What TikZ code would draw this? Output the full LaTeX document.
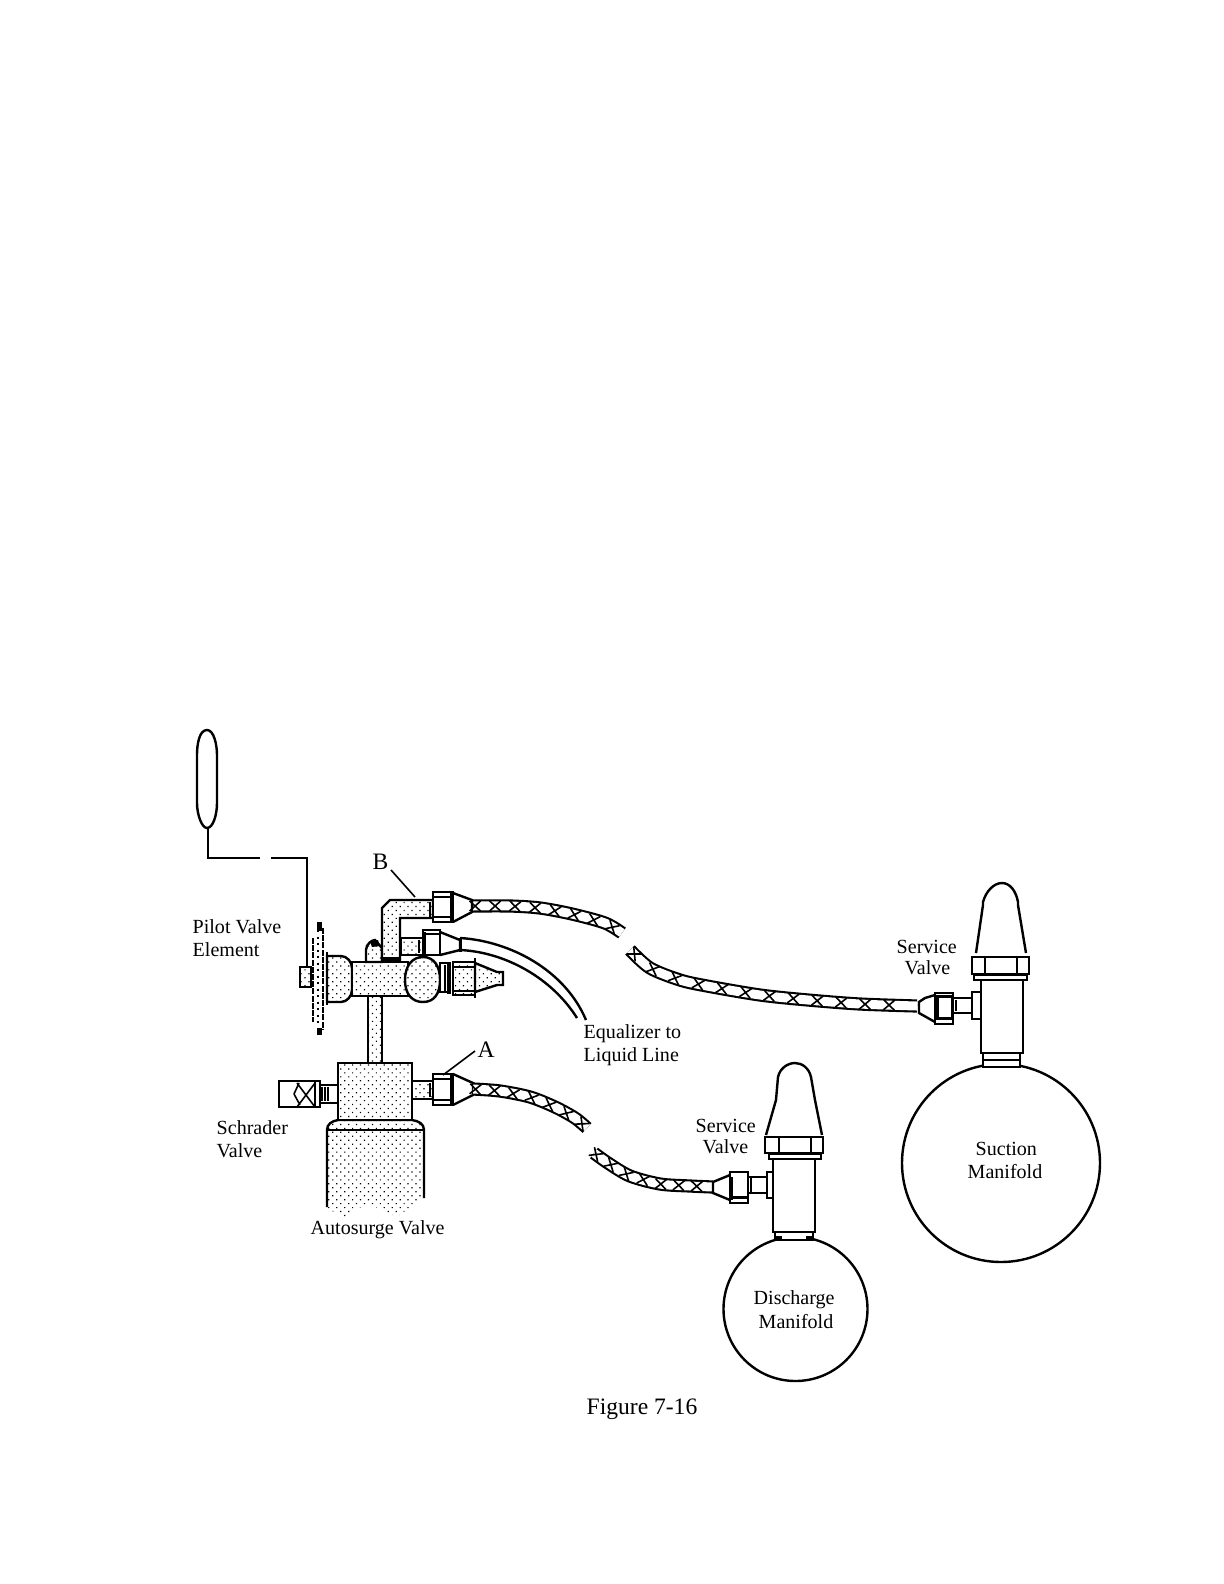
\documentclass[tikz,border=0pt]{standalone}
\usepackage{fontspec}
\setmainfont{Liberation Serif}
\usetikzlibrary{patterns.meta,decorations.markings}
\tikzset{
  ln/.style={line width=0.024cm,line join=miter},
  thin ln/.style={line width=0.016cm},
  thick ln/.style={line width=0.04cm},
  dotfill/.style={preaction={fill=white},pattern={Dots[radius=0.0085cm,distance=0.056cm,angle=45]},pattern color=black},
  lab/.style={inner sep=0pt,align=left,anchor=north west,font=\fontsize{5.7}{6.5}\selectfont},
  big lab/.style={lab,font=\fontsize{6.7}{7}\selectfont},
  hose/.style={line width=0.021cm,double distance=0.09cm},
  braid/.style={decorate,decoration={markings,mark=between positions 0.02 and 0.98 step #1 with {\draw[thin ln] (-0.055cm,-0.05cm) -- (0.055cm,0.05cm) (-0.055cm,0.05cm) -- (0.055cm,-0.05cm);}}},
}
\begin{document}
\begin{tikzpicture}[x=0.01cm,y=-0.01cm]
\useasboundingbox (0,0) rectangle (1224,1584);
\fill[white] (0,0) rectangle (1224,1584);
% bulb and capillary
\draw[ln] (207,730) .. controls (199,730) and (197,745) .. (197,755) -- (197,803) .. controls (197,815) and (202,828) .. (207,828) .. controls (213,828) and (217,815) .. (217,803) -- (217,755) .. controls (217,745) and (214,730) .. (207,730) -- cycle;
\draw[ln] (208,828) -- (208,858) -- (260,858);
\draw[ln] (271,858) -- (307,858) -- (307,968);
% autosurge lower
\path[dotfill] (327,1130) -- (327,1207) -- (343,1219) -- (367,1203) -- (397,1217) -- (424,1198) -- (424,1130) -- cycle;
\path[dotfill] (327,1130) .. controls (327,1124) and (332,1121) .. (338,1120) -- (412,1120) .. controls (419,1121) and (424,1124) .. (424,1130) -- cycle;
\draw[ln] (327,1207) -- (327,1130) .. controls (327,1124) and (332,1121) .. (338,1120) -- (412,1120) .. controls (419,1121) and (424,1124) .. (424,1130) -- (424,1198);
\draw[ln] (327,1130) -- (424,1130);
\draw[ln,dotfill] (338,1063) rectangle (412,1120);
% stem
\draw[ln,dotfill] (368,996) rectangle (382,1063);
% schrader
\draw[ln] (338,1085) -- (320,1085) -- (320,1103) -- (338,1103);
\draw[thin ln] (322,1087) -- (322,1101) (325,1087) -- (325,1101) (328,1087) -- (328,1101);
\draw[ln] (315,1081) -- (279,1081) -- (279,1107) -- (315,1107);
\draw[ln] (315,1081) rectangle (320,1107);
\draw[thin ln] (297,1083) -- (315,1107) (297,1107) -- (315,1083) (294,1094) -- (299,1083) (294,1094) -- (300,1105);
% right pipe A
\draw[ln,dotfill] (412,1081) rectangle (433,1099);
\draw[ln] (430,1083) -- (430,1097);
\draw[ln,fill=white] (433,1074) rectangle (453,1105);
\draw[ln] (433,1079) -- (453,1079) (433,1100) -- (453,1100);
\draw[thick ln] (452,1074) -- (452,1106);
\draw[ln] (453,1074) -- (473,1083) -- (473,1095) -- (453,1105);
% lower hose first part
\draw[hose] plot[smooth] coordinates {(473,1089) (500,1091) (530,1097) (555,1107) (575,1118) (587,1128)};
\path[braid=0.19cm] (473,1089) -- (500,1091) -- (530,1097) -- (555,1107) -- (575,1118) -- (587,1128);
% lower hose second part
\draw[hose] plot[smooth] coordinates {(594,1153) (608,1163) (630,1176) (660,1184) (690,1186) (713,1187)};
\path[braid=0.18cm] (594,1153) -- (608,1163) -- (630,1176) -- (660,1184) -- (690,1186) -- (713,1187);
% discharge valve
\draw[ln] (795.5,1309) circle[radius=72];
\draw[ln,fill=white] (775,1232) rectangle (813,1240);
\draw[thick ln] (776,1238) -- (782,1238) (806,1238) -- (812,1238);
\draw[ln,fill=white] (773,1159) rectangle (815,1232);
\draw[ln,fill=white] (769,1154) rectangle (821,1159);
\draw[ln,fill=white] (765,1137) rectangle (823,1153);
\draw[ln] (779,1137) -- (779,1153) (811,1137) -- (811,1153);
\draw[ln] (766,1135) -- (776,1100) -- (778,1077) .. controls (780,1068) and (788,1063) .. (795,1063) .. controls (802,1063) and (809,1068) .. (811,1077) -- (815,1100) -- (822,1135);
\draw[ln,fill=white] (767,1172) rectangle (773,1198);
\draw[ln,fill=white] (748,1177) rectangle (767,1193);
\draw[thin ln] (751,1178) -- (751,1192);
\draw[ln,fill=white] (730,1172) rectangle (748,1203);
\draw[line width=0.03cm] (731,1177) -- (731,1200) (731,1197) -- (748,1197);
\draw[ln] (730,1175) -- (713,1182) -- (713,1193) -- (730,1200);
% suction valve
\draw[ln] (1001,1163) circle[radius=99];
\draw[ln,fill=white] (983,1053) rectangle (1020,1067);
\draw[ln] (983,1060) -- (1020,1060);
\draw[ln,fill=white] (981,980) rectangle (1023,1053);
\draw[ln,fill=white] (974,975) rectangle (1027,980);
\draw[ln,fill=white] (972,957) rectangle (1029,974);
\draw[ln] (985,957) -- (985,974) (1017,957) -- (1017,974);
\draw[ln] (976,953) -- (983,905) -- (983,902) .. controls (986,891) and (994,883) .. (1002,883) .. controls (1010,883) and (1016,891) .. (1018,902) -- (1018,905) -- (1026,953);
\draw[ln,fill=white] (972,992) rectangle (981,1019);
\draw[ln,fill=white] (953,998) rectangle (972,1013);
\draw[thin ln] (956,1000) -- (956,1011);
\draw[ln,fill=white] (935,993) rectangle (953,1024);
\draw[line width=0.03cm] (937,996) rectangle (952,1018);
\draw[ln] (935,995) -- (925,998) -- (919,1002) -- (919,1013) -- (935,1022);
% upper hose
\draw[hose] plot[smooth] coordinates {(472,906) (510,906) (540,908) (572,914) (605,923) (622,933)};
\path[braid=0.2cm] (472,906) -- (510,906) -- (540,908) -- (572,914) -- (605,923) -- (622,933);
% second part, upper hose
\draw[hose] plot[smooth] coordinates {(630,950) (650,968) (680,980) (707,986) (760,995) (808,1000) (860,1004) (917,1006)};
\path[braid=0.24cm] (630,950) -- (650,968) -- (680,980) -- (707,986) -- (760,995) -- (808,1000) -- (860,1004) -- (917,1006);
% pilot valve: disc, knob, body, ball
\draw[ln,dotfill] (300,967) rectangle (311,987);
\draw[line width=0.028cm,dash pattern=on 0.06cm off 0.012cm] (313,938) -- (313,1022);
\draw[line width=0.028cm,dash pattern=on 0.06cm off 0.012cm] (323,928) -- (323,1030);
\draw[line width=0.022cm,dash pattern=on 0.02cm off 0.045cm] (318,930) -- (318,1028);
\draw[ln] (327,952) -- (327,1005);
\draw[line width=0.05cm] (319,922) -- (319,931) (319,1028) -- (319,1035);
\draw[ln,dotfill] (327,956) -- (341,956) .. controls (347,956) and (352,962) .. (352,968) -- (352,990) .. controls (352,996) and (347,1002) .. (341,1002) -- (327,1002) -- cycle;
\draw[ln,dotfill] (352,962) rectangle (408,996);
\draw[ln,dotfill] (423,957) .. controls (434,957) and (440,966) .. (440,980) .. controls (440,994) and (434,1002) .. (423,1002) .. controls (412,1002) and (405,994) .. (405,980) .. controls (405,966) and (412,957) .. (423,957) -- cycle;
% small valve
\draw[ln,dotfill] (366,962) -- (366,950) .. controls (366,944) and (372,940) .. (375,940) -- (382,948) -- (382,962) -- cycle;
\fill (370,941) -- (378,940) -- (380,946) -- (372,947) -- cycle;
% elbow
\draw[ln,dotfill] (382,962) -- (382,908) -- (390,900) -- (433,900) -- (433,918) -- (400,918) -- (400,962);
\fill (382,957) rectangle (400,963);
\draw[ln] (430,902) -- (430,917);
% nut B
\draw[ln,fill=white] (433,892) rectangle (453,922);
\draw[ln] (433,897) -- (453,897) (433,917) -- (453,917);
\draw[thick ln] (452,892) -- (452,923);
\draw[ln] (453,893) -- (472,900) -- (472,912) -- (453,922);
% equalizer fitting
\draw[ln,dotfill] (401,938) rectangle (423,955);
\draw[ln] (419,940) -- (419,953);
\draw[ln,fill=white] (423,930) rectangle (440,955);
\draw[line width=0.03cm] (424,932) -- (424,954);
\draw[ln] (423,934) -- (440,934);
\draw[ln] (440,932) -- (460,940) -- (460,950) -- (440,955);
\draw[line width=0.03cm] (460,938) -- (460,952);
\draw[ln] (460,938) .. controls (510,941) and (565,970) .. (586,1020);
\draw[ln] (460,950) .. controls (505,952) and (552,978) .. (577,1018);
% right outlet
\draw[ln,fill=white] (440,963) rectangle (450,992);
\draw[thin ln] (445,965) -- (445,991);
\draw[thick ln] (449,963) -- (449,994);
\draw[ln,dotfill] (453,962) rectangle (475,995);
\draw[ln] (453,967) -- (475,967) (453,991) -- (475,991);
\draw[ln] (475,958) -- (475,998);
\draw[ln,dotfill] (475,963) -- (497,972) -- (503,972) -- (503,985) -- (497,985) -- (475,992) -- cycle;
% leaders
\draw[thin ln] (391,870) -- (415,897);
\draw[thin ln] (475,1051) -- (443,1075);
% labels
\node[lab] (pilot) at (192,919) {Pilot Valve\\Element};
\node[lab] (sch) at (216,1120) {Schrader\\Valve};
\node[lab] (auto) at (310,1220) {Autosurge Valve};
\node[lab] (eq) at (583,1024) {Equalizer to\\Liquid Line};
\node[lab] (sv1) at (896,940) {Service};
\node[lab] (sv1b) at (904,960) {Valve};
\node[lab] (sv2) at (695,1119) {Service};
\node[lab] (sv2b) at (702,1139) {Valve};
\node[lab] (sm) at (975,1142) {Suction};
\node[lab] (sm2) at (967,1164) {Manifold};
\node[lab] (dm) at (753,1290) {Discharge};
\node[lab] (dm2) at (758,1314) {Manifold};
\node[big lab] (a) at (477,1041) {A};
\node[big lab] (b) at (372,853) {B};
\node[big lab] (fig) at (586,1398) {Figure 7-16};
\end{tikzpicture}
\end{document}
